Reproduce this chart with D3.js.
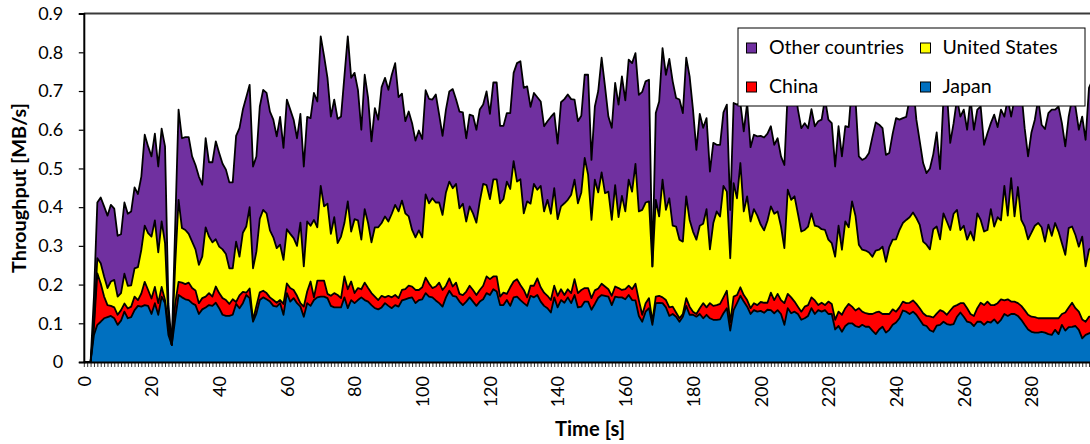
<!DOCTYPE html>
<html>
<head>
<meta charset="utf-8">
<script src="https://cdn.jsdelivr.net/npm/d3@7"></script>
<style>
  body { margin: 0; background: #fff; }
  svg { display: block; }
  text { font-family: Lato, "Liberation Sans", sans-serif; fill: #000; }
</style>
</head>
<body>
<svg id="chart" width="1090" height="444"></svg>
<script>
// Time axis: one sample per second
const seconds = d3.range(0, 299);

// Throughput per country [MB/s]
const japan = [
  0,0,0,.07,.096,.104,.113,.116,.119,.113,
  .096,.107,.130,.113,.116,.134,.145,.143,.147,.145,
  .124,.152,.122,.169,.152,.07,.044,.11,.173,.167,
  .162,.160,.152,.147,.124,.136,.141,.147,.145,.153,
  .139,.122,.119,.119,.122,.150,.139,.152,.173,.165,
  .104,.125,.160,.167,.162,.156,.145,.143,.152,.122,
  .178,.156,.165,.152,.143,.117,.152,.145,.160,.167,
  .169,.169,.165,.145,.141,.141,.141,.167,.139,.160,
  .152,.160,.167,.160,.156,.147,.139,.136,.141,.152,
  .145,.139,.147,.143,.159,.162,.165,.167,.152,.160,
  .162,.178,.169,.167,.159,.152,.143,.167,.184,.171,
  .169,.156,.147,.156,.167,.156,.145,.156,.162,.178,
  .173,.188,.182,.147,.147,.160,.145,.167,.169,.160,
  .152,.145,.171,.167,.173,.156,.145,.139,.128,.167,
  .141,.160,.153,.167,.152,.173,.141,.143,.156,.156,
  .135,.150,.166,.173,.171,.169,.147,.169,.167,.167,
  .162,.173,.160,.159,.119,.104,.130,.139,.096,.152,
  .153,.152,.141,.119,.124,.117,.104,.117,.145,.122,
  .122,.117,.124,.113,.122,.113,.109,.109,.110,.126,
  .139,.081,.134,.152,.171,.156,.143,.124,.134,.130,
  .132,.127,.135,.134,.126,.134,.124,.096,.139,.126,
  .130,.124,.109,.113,.119,.139,.124,.134,.130,.134,
  .124,.124,.084,.093,.078,.093,.100,.100,.093,.090,
  .096,.091,.091,.081,.072,.084,.091,.076,.083,.096,
  .102,.113,.133,.130,.124,.130,.122,.109,.096,.093,
  .082,.078,.094,.096,.104,.098,.096,.098,.117,.128,
  .117,.104,.102,.093,.104,.104,.096,.104,.102,.110,
  .100,.109,.124,.119,.124,.124,.119,.109,.096,.084,
  .078,.076,.076,.078,.076,.072,.070,.083,.072,.096,
  .081,.090,.091,.093,.083,.061,.070,.074,.078
];

const china = [
  0,0,0,.02,.133,.099,.056,.031,.026,.028,
  .026,.027,.021,.025,.027,.035,.015,.034,.060,.041,
  .040,.042,.030,.025,.008,.02,0,.04,.034,.038,
  .039,.045,.039,.038,.028,.029,.028,.031,.024,.042,
  .039,.043,.041,.031,.040,.005,.033,.029,.006,.025,
  .004,.020,.020,.017,.016,.011,.015,.010,.008,.028,
  .025,.035,.021,.019,.009,.026,.030,.063,.007,.043,
  .041,.041,.011,.026,.037,.032,.024,.054,.049,.048,
  .026,.031,.021,.045,.035,.031,.030,.024,.030,.015,
  .026,.028,.026,.022,.027,.026,.032,.028,.034,.026,
  .031,.040,.034,.024,.036,.053,.043,.030,.032,.024,
  .036,.020,.026,.026,.030,.030,.028,.030,.035,.043,
  .041,.033,.039,.022,.032,.016,.048,.041,.045,.039,
  .034,.022,.026,.030,.043,.037,.034,.032,.032,.030,
  .030,.028,.020,.021,.026,.041,.037,.043,.035,.035,
  .030,.035,.024,.029,.024,.019,.024,.026,.024,.019,
  .026,.024,.028,.043,.041,.018,.022,.026,.008,.017,
  .018,.015,.019,.022,.019,.011,.009,.007,.020,.021,
  .008,.007,.015,.039,.019,.039,.036,.038,.040,.041,
  .045,.021,.035,.021,.022,.017,.017,.015,.018,.017,
  .023,.026,.018,.045,.034,.042,.036,.056,.037,.041,
  .026,.019,.021,.030,.028,.028,.035,.013,.023,.013,
  .032,.026,.025,.037,.044,.046,.050,.043,.040,.049,
  .034,.035,.033,.043,.056,.046,.033,.048,.041,.040,
  .028,.028,.023,.022,.029,.029,.028,.030,.030,.026,
  .036,.037,.031,.038,.026,.024,.037,.045,.030,.024,
  .035,.035,.022,.026,.035,.049,.051,.052,.045,.037,
  .052,.053,.035,.043,.032,.032,.033,.036,.038,.038,
  .039,.040,.037,.035,.037,.041,.043,.030,.041,.028,
  .047,.051,.062,.046,.047,.049,.034,.043,.040
];

const usa = [
  0,0,0,.01,.039,.052,.052,.044,.063,.071,
  .047,.044,.077,.059,.055,.073,.085,.113,.145,.147,
  .160,.172,.131,.169,.147,.02,0,.10,.212,.141,
  .140,.126,.120,.106,.099,.107,.179,.146,.140,.122,
  .120,.126,.119,.092,.080,.156,.100,.153,.171,.210,
  .134,.140,.190,.209,.206,.173,.162,.141,.143,.114,
  .140,.140,.134,.129,.208,.104,.181,.144,.200,.138,
  .245,.192,.233,.160,.196,.134,.159,.138,.227,.129,
  .191,.175,.128,.190,.168,.131,.179,.188,.188,.209,
  .192,.216,.233,.224,.231,.196,.179,.146,.136,.154,
  .129,.215,.207,.232,.217,.207,.194,.241,.250,.254,
  .255,.221,.236,.181,.205,.198,.187,.229,.263,.236,
  .207,.251,.251,.241,.242,.290,.254,.311,.252,.273,
  .198,.248,.212,.263,.229,.262,.210,.248,.223,.252,
  .198,.214,.237,.231,.254,.257,.232,.252,.336,.293,
  .202,.286,.248,.288,.241,.252,.196,.262,.183,.243,
  .201,.274,.252,.310,.229,.271,.260,.250,.143,.250,
  .205,.304,.233,.282,.209,.222,.203,.187,.263,.224,
  .207,.192,.213,.205,.254,.139,.214,.242,.226,.288,
  .256,.166,.293,.250,.321,.216,.268,.224,.243,.231,
  .200,.187,.212,.223,.223,.213,.190,.142,.269,.252,
  .272,.240,.207,.198,.203,.217,.193,.203,.190,.194,
  .160,.157,.163,.222,.168,.224,.198,.272,.245,.164,
  .160,.162,.159,.148,.160,.160,.174,.135,.173,.180,
  .187,.200,.203,.215,.221,.227,.222,.215,.185,.184,
  .173,.228,.225,.183,.254,.241,.208,.240,.246,.189,
  .200,.177,.213,.195,.245,.214,.190,.185,.248,.203,
  .222,.204,.296,.216,.319,.220,.300,.222,.216,.195,
  .217,.236,.246,.235,.198,.242,.213,.246,.224,.183,
  .149,.205,.197,.189,.168,.214,.143,.173,.180
];

const other = [
  0,0,0,.07,.144,.170,.181,.187,.198,.184,
  .157,.152,.184,.186,.191,.209,.189,.189,.235,.224,
  .207,.224,.222,.240,.250,.04,0,.10,.233,.232,
  .240,.250,.220,.218,.228,.186,.230,.192,.207,.253,
  .242,.221,.218,.222,.222,.273,.332,.318,.334,.316,
  .263,.246,.290,.310,.311,.307,.304,.289,.330,.289,
  .335,.321,.306,.278,.281,.258,.270,.278,.328,.325,
  .386,.388,.325,.303,.304,.321,.310,.379,.426,.397,
  .378,.337,.284,.347,.323,.261,.308,.278,.351,.358,
  .340,.359,.366,.295,.276,.238,.271,.276,.250,.258,
  .254,.269,.270,.255,.279,.227,.204,.214,.233,.256,
  .218,.250,.236,.215,.237,.252,.240,.237,.205,.242,
  .220,.250,.250,.200,.189,.177,.196,.228,.306,.305,
  .324,.297,.250,.235,.239,.218,.220,.203,.250,.194,
  .195,.269,.269,.272,.247,.207,.212,.198,.215,.258,
  .155,.189,.262,.296,.276,.194,.238,.264,.291,.309,
  .287,.310,.332,.286,.301,.305,.313,.314,0,.224,
  .297,.340,.349,.360,.373,.332,.362,.332,.358,.371,
  .315,.232,.289,.248,.235,.201,.207,.172,.185,.190,
  .225,.125,.207,.242,.155,.207,.241,.192,.192,.205,
  .229,.240,.225,.207,.178,.189,.181,.215,.255,.321,
  .292,.269,.267,.276,.254,.269,.257,.272,.283,.339,
  .310,.310,.233,.257,.241,.246,.259,.305,.302,.228,
  .232,.239,.257,.309,.331,.323,.306,.276,.243,.274,
  .313,.285,.271,.266,.306,.334,.254,.216,.203,.185,
  .209,.194,.243,.181,.296,.337,.225,.234,.287,.293,
  .300,.284,.343,.286,.268,.293,.224,.250,.222,.289,
  .233,.286,.179,.302,.159,.304,.228,.333,.254,.214,
  .259,.274,.321,.265,.291,.288,.326,.293,.323,.310,
  .280,.288,.330,.332,.302,.310,.327,.418,.430
];

const seriesKeys = ["japan", "china", "usa", "other"];
const seriesColors = { japan: "#0070C0", china: "#FF0000", usa: "#FFFF00", other: "#7030A0" };

// Legend entries in display order (two columns)
const legendItems = [
  { key: "other", label: "Other countries" },
  { key: "usa",   label: "United States" },
  { key: "china", label: "China" },
  { key: "japan", label: "Japan" }
];

const yTickValues = [0, 0.1, 0.2, 0.3, 0.4, 0.5, 0.6, 0.7, 0.8, 0.9];
const yTickLabels = ["0", "0.1", "0.2", "0.3", "0.4", "0.5", "0.6", "0.7", "0.8", "0.9"];
const xLabelStep = 20;

const svg = d3.select("#chart");
const plot = { left: 83.8, right: 1090, top: 13.6, bottom: 362 };

const x = d3.scaleLinear().domain([0, 297.3]).range([plot.left, plot.right]);
const y = d3.scaleLinear().domain([0, 0.9]).range([plot.bottom, plot.top]);

// Scale a text element's font size so it spans the given width
function fitWidth(sel, target) {
  const node = sel.node();
  const base = parseFloat(sel.attr("font-size"));
  const w = node.getComputedTextLength();
  if (w > 0) sel.attr("font-size", (base * target / w).toFixed(2));
  return +sel.attr("font-size");
}

const rows = seconds.map((t, i) => ({
  t, japan: japan[i], china: china[i], usa: usa[i], other: other[i]
}));
const stacked = d3.stack().keys(seriesKeys)(rows);

svg.append("defs").append("clipPath").attr("id", "plotClip")
  .append("rect")
  .attr("x", plot.left).attr("y", plot.top - 2)
  .attr("width", plot.right - plot.left).attr("height", plot.bottom - plot.top + 2);

const area = d3.area()
  .x(d => x(d.data.t))
  .y0(d => y(d[0]))
  .y1(d => y(d[1]));

const topLine = d3.line()
  .x(d => x(d.data.t))
  .y(d => y(d[1]));

const g = svg.append("g").attr("clip-path", "url(#plotClip)");

g.selectAll("path.layer")
  .data(stacked)
  .join("path")
  .attr("class", "layer")
  .attr("fill", d => seriesColors[d.key])
  .attr("d", area);

g.selectAll("path.edge")
  .data(stacked)
  .join("path")
  .attr("class", "edge")
  .attr("fill", "none")
  .attr("stroke", "#000")
  .attr("stroke-width", 1.8)
  .attr("stroke-linejoin", "round")
  .attr("d", topLine);

// Plot frame top edge
svg.append("line")
  .attr("x1", plot.left).attr("x2", plot.right)
  .attr("y1", plot.top).attr("y2", plot.top)
  .attr("stroke", "#3a3a3a").attr("stroke-width", 2);

// Y axis
const yAxis = svg.append("g")
  .attr("transform", `translate(${plot.left},0)`)
  .call(d3.axisLeft(y)
    .tickValues(yTickValues)
    .tickFormat((d, i) => yTickLabels[i])
    .tickSize(5)
    .tickPadding(15.5));
yAxis.select(".domain").attr("stroke", "#000").attr("stroke-width", 2);
yAxis.selectAll(".tick line").attr("stroke", "#000").attr("stroke-width", 1.2);
yAxis.selectAll("text").attr("font-size", 18).attr("font-family", "Lato, sans-serif");

// X axis: a tick per second, label every 20 s
const xAxis = svg.append("g")
  .attr("transform", `translate(0,${plot.bottom})`)
  .call(d3.axisBottom(x)
    .tickValues(seconds)
    .tickFormat(d => (d % xLabelStep === 0 ? String(d) : ""))
    .tickSize(5)
    .tickSizeOuter(0));
xAxis.select(".domain").attr("stroke", "#000").attr("stroke-width", 2);
xAxis.selectAll(".tick line").attr("stroke", "#000").attr("stroke-width", 0.8);
xAxis.selectAll("text")
  .attr("font-size", 18)
  .attr("font-family", "Lato, sans-serif")
  .attr("transform", "rotate(-90)")
  .attr("text-anchor", "end")
  .attr("x", -14)
  .attr("y", 0)
  .attr("dy", "0.35em");

// Axis titles
const xTitle = svg.append("text")
  .attr("x", 590).attr("y", 436)
  .attr("text-anchor", "middle")
  .attr("font-size", 18).attr("font-weight", "bold")
  .text("Time [s]");
fitWidth(xTitle, 70);

const yTitle = svg.append("text")
  .attr("transform", "translate(26,188) rotate(-90)")
  .attr("text-anchor", "middle")
  .attr("font-size", 18).attr("font-weight", "bold")
  .text("Throughput [MB/s]");
fitWidth(yTitle, 170);

// Legend
const legend = svg.append("g");
legend.append("rect")
  .attr("x", 738).attr("y", 28).attr("width", 347).attr("height", 78)
  .attr("fill", "#fff").attr("stroke", "#000").attr("stroke-width", 1);

const legendPos = [
  { sx: 746.5, sy: 43, tx: 769, ty: 54 },
  { sx: 920.5, sy: 43, tx: 942.5, ty: 54 },
  { sx: 746.5, sy: 82, tx: 769, ty: 93 },
  { sx: 920.5, sy: 82, tx: 942.5, ty: 93 }
];

const legendTexts = legendItems.map((item, i) => {
  const p = legendPos[i];
  legend.append("rect")
    .attr("x", p.sx).attr("y", p.sy).attr("width", 10).attr("height", 10)
    .attr("fill", seriesColors[item.key]).attr("stroke", "#000").attr("stroke-width", 1);
  return legend.append("text")
    .attr("x", p.tx).attr("y", p.ty)
    .attr("font-size", 18)
    .text(item.label);
});
// one common size for all legend labels, set by the widest entry
const legendSize = fitWidth(legendTexts[0], 135);
legendTexts.forEach(t => t.attr("font-size", legendSize));
</script>
</body>
</html>
